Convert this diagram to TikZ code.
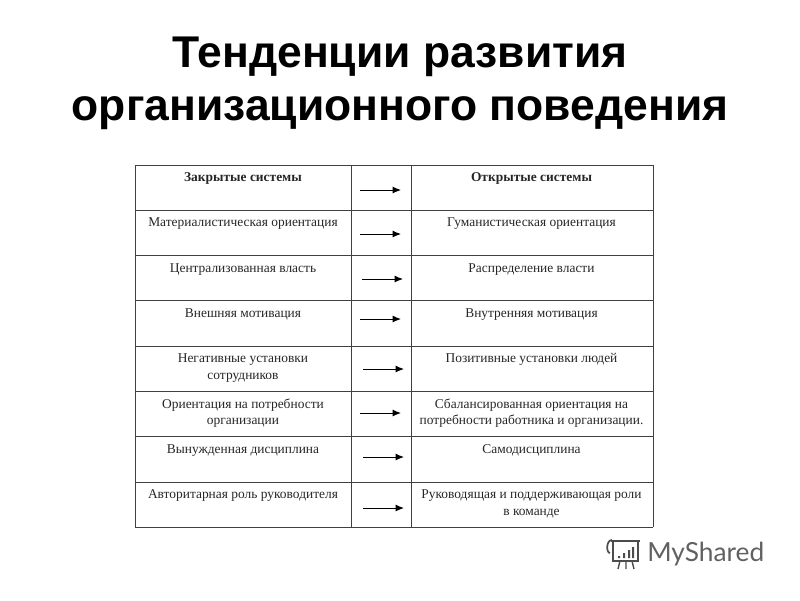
\documentclass[tikz,border=0pt]{standalone}
\usepackage{fontspec}
\setmainfont{Liberation Serif}
\newfontfamily\titlefont{Liberation Sans}
\newfontfamily\logofont{Lato}
\usetikzlibrary{arrows.meta}
\tikzset{
  rowtext/.style={anchor=north,align=center,font=\fontsize{9.55}{11.7}\selectfont,inner sep=0pt,text=black!85},
  headtext/.style={rowtext,font=\fontsize{9.55}{11.7}\selectfont\bfseries},
  titletext/.style={align=center,font=\titlefont\bfseries\fontsize{31.6}{37.6}\selectfont},
  rowarrow/.style={-{Latex[length=6pt,width=5pt]},line width=.7pt},
  tableline/.style={line width=.7pt,black!75},
}
\begin{document}
\begin{tikzpicture}[x=.025cm,y=-.025cm]
      \useasboundingbox (0,0) rectangle (800,600);
      \node[titletext] (title) at (400,83) {Тенденции развития\\организационного поведения};
      % table
      \foreach \ypos in {165,210,255,300,346,391,436,482,527}
      \draw[tableline] (135,\ypos) -- (653,\ypos);
      \foreach \xpos in {135,351,411,653}
      \draw[tableline] (\xpos,165) -- (\xpos,527);
      % left column
      \node[headtext] (closed) at (243,172.5) {Закрытые системы};
      \node[rowtext] (mater) at (243,217.5) {Материалистическая ориентация};
      \node[rowtext] (central) at (243,263.5) {Централизованная власть};
      \node[rowtext] (extern) at (243,308.5) {Внешняя мотивация};
      \node[rowtext] (negat) at (243,353.5) {Негативные установки\\сотрудников};
      \node[rowtext] (needs) at (243,398.5) {Ориентация на потребности\\организации};
      \node[rowtext] (forced) at (243,444.5) {Вынужденная дисциплина};
      \node[rowtext] (author) at (243,489.5) {Авторитарная роль руководителя};
      % right column
      \node[headtext] (open) at (531.5,172.5) {Открытые системы};
      \node[rowtext] (human) at (531.5,217.5) {Гуманистическая ориентация};
      \node[rowtext] (distrib) at (531.5,263.5) {Распределение власти};
      \node[rowtext] (intern) at (531.5,308.5) {Внутренняя мотивация};
      \node[rowtext] (posit) at (531.5,353.5) {Позитивные установки людей};
      \node[rowtext] (balance) at (531.5,398.5) {Сбалансированная ориентация на\\потребности работника и организации.};
      \node[rowtext] (self) at (531.5,444.5) {Самодисциплина};
      \node[rowtext] (lead) at (531.5,489.5) {Руководящая и поддерживающая роли\\в команде};
      % arrows
      \foreach \name/\xa/\ya in {a/360/190,b/360/234,c/362/279,d/360/319,e/363/369,f/360/413,g/363/457,h/363/508}{
        \coordinate (\name0) at (\xa,\ya);
        \coordinate (\name1) at (\xa+41,\ya);
        \draw[rowarrow] (\name0) -- (\name1);
      }
      % logo
      \node[anchor=west,inner sep=0pt,text=black!62,font=\logofont\fontsize{18.7}{20}\selectfont] (logo) at (647,554) {MyShared};
      \draw[black!70,line width=1.2pt] (611,541) -- (640,541) (613,541) -- (613,561) -- (638,561) -- (638,541);
      \draw[black!70,line width=1.2pt] (612,540) .. controls (606,540) and (606,553) .. (610,553);
      \fill[black!70] (618,556) rectangle +(2,2) (623,553) rectangle +(2,5) (628,550) rectangle +(2,8) (632,547) rectangle +(2,11);
      \draw[black!70,line width=1pt] (620,561) -- (618,569) (626,561) -- (626,569) (632,561) -- (634,569);
\end{tikzpicture}
\end{document}
